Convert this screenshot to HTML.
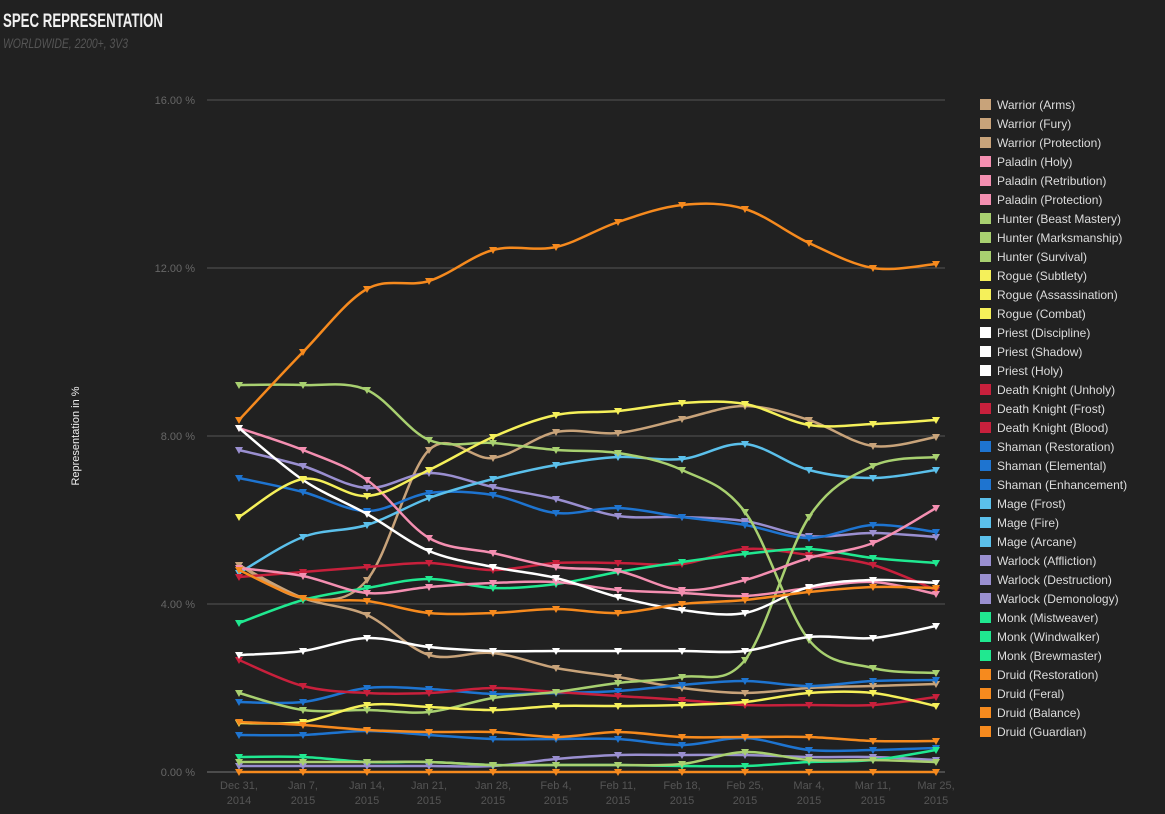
<!DOCTYPE html>
<html><head><meta charset="utf-8"><style>
body{margin:0;background:#212121;width:1165px;height:809px;overflow:hidden;font-family:"Liberation Sans",sans-serif}
</style></head><body>
<svg id="s" width="1165" height="809" xmlns="http://www.w3.org/2000/svg">
<rect width="1165" height="809" fill="#212121"/>
<text x="3" y="27" fill="#f0f0f0" font-size="19" font-weight="bold" textLength="160" lengthAdjust="spacingAndGlyphs">SPEC REPRESENTATION</text>
<text x="3" y="48" fill="#555" font-size="14" font-style="italic" textLength="125" lengthAdjust="spacingAndGlyphs">WORLDWIDE, 2200+, 3V3</text>
<text transform="translate(79,436) rotate(-90)" fill="#eee" font-size="11" text-anchor="middle">Representation in %</text>
<g id="grid"></g><g id="lines"></g><g id="leg"></g>
</svg>
<script>
const NS="http://www.w3.org/2000/svg";
function el(t,a,p,txt){const e=document.createElementNS(NS,t);for(const k in a)e.setAttribute(k,a[k]);if(txt)e.textContent=txt;p.appendChild(e);return e;}
const g=document.getElementById('grid');
[[16,100],[12,268],[8,436],[4,604],[0,772]].forEach(([v,y])=>{
 el('line',{x1:207,x2:945,y1:y,y2:y,stroke:v==0?'#777':'#555','stroke-width':1},g);
 el('text',{x:195,y:y+4,fill:'#666','font-size':11,'text-anchor':'end'},g,v.toFixed(2)+' %');
});
const X=[239,303,367,429,493,556,618,682,745,809,873,936];
const dl=["Dec 31,","Jan 7,","Jan 14,","Jan 21,","Jan 28,","Feb 4,","Feb 11,","Feb 18,","Feb 25,","Mar 4,","Mar 11,","Mar 25,"];
const yl=["2014","2015","2015","2015","2015","2015","2015","2015","2015","2015","2015","2015"];
X.forEach((x,i)=>{el('text',{x:x,y:789,fill:'#555','font-size':11,'text-anchor':'middle'},g,dl[i]);el('text',{x:x,y:804,fill:'#555','font-size':11,'text-anchor':'middle'},g,yl[i]);});
const S=[
['#c8a37a',[565,598,580,450,458,432,433,419,406,420,446,437]],
['#c8a37a',[565,598,615,655,653,668,677,688,693,688,686,684]],
['#9a8fd0',[450,466,488,473,487,499,516,517,521,536,533,537]],
['#9a8fd0',[766,766,766,766,766,759,755,755,755,757,757,760]],
['#1e74d0',[478,492,511,493,495,513,508,517,525,538,525,532]],
['#1e74d0',[702,702,688,689,694,693,691,685,681,686,681,680]],
['#1e74d0',[735,735,731,735,739,739,739,745,738,750,750,748]],
['#5bc0eb',[573,537,525,498,479,465,457,459,444,470,478,470]],
['#c8203c',[660,686,693,693,688,692,696,700,705,705,705,697]],
['#c8203c',[577,572,567,563,570,563,563,564,549,555,565,590]],
['#20e890',[623,600,588,579,588,584,572,562,554,549,558,563]],
['#20e890',[757,757,762,762,765,765,765,766,766,762,760,750]],
['#a8d070',[385,385,390,440,443,450,453,470,512,640,668,673]],
['#a8d070',[693,710,710,712,698,692,683,677,660,517,466,457]],
['#a8d070',[762,762,762,762,765,765,765,764,752,760,760,762]],
['#f48fb1',[428,450,480,538,553,567,571,590,580,558,543,508]],
['#f48fb1',[568,576,593,587,583,582,590,593,596,588,582,594]],
['#ffffff',[428,480,514,551,567,578,597,610,613,587,580,583]],
['#ffffff',[655,651,638,647,651,651,651,651,651,637,638,626]],
['#f5f05a',[517,479,496,470,437,415,411,403,404,425,424,420]],
['#f5f05a',[723,722,705,707,710,706,706,705,702,693,693,706]],
['#f68a1e',[570,598,601,613,613,609,613,604,600,592,587,588]],
['#f68a1e',[722,725,730,732,732,737,732,737,737,737,741,741]],
['#f68a1e',[772,772,772,772,772,772,772,772,772,772,772,772]],
['#f68a1e',[420,352,289,281,250,247,222,205,209,243,268,264]]];
const L=document.getElementById('lines');
S.forEach(([c,ys])=>{
 const P=X.map((x,i)=>[x,ys[i]]);let d='M'+P[0];
 for(let i=0;i<P.length-1;i++){const p0=P[Math.max(i-1,0)],p1=P[i],p2=P[i+1],p3=P[Math.min(i+2,P.length-1)];
  const c1=[p1[0]+(p2[0]-p0[0])/6,p1[1]+(p2[1]-p0[1])/6],c2=[p2[0]-(p3[0]-p1[0])/6,p2[1]-(p3[1]-p1[1])/6];
  d+=' C'+c1+' '+c2+' '+p2;}
 el('path',{d:d,fill:'none',stroke:c,'stroke-width':2.5},L);
 P.forEach(([x,y])=>el('path',{d:`M${x-4},${y-3}L${x+4},${y-3}L${x},${y+4}Z`,fill:c},L));
});
const names=[["Warrior (Arms)","#c8a37a"],["Warrior (Fury)","#c8a37a"],["Warrior (Protection)","#c8a37a"],["Paladin (Holy)","#f48fb1"],["Paladin (Retribution)","#f48fb1"],["Paladin (Protection)","#f48fb1"],["Hunter (Beast Mastery)","#a8d070"],["Hunter (Marksmanship)","#a8d070"],["Hunter (Survival)","#a8d070"],["Rogue (Subtlety)","#f5f05a"],["Rogue (Assassination)","#f5f05a"],["Rogue (Combat)","#f5f05a"],["Priest (Discipline)","#fff"],["Priest (Shadow)","#fff"],["Priest (Holy)","#fff"],["Death Knight (Unholy)","#c8203c"],["Death Knight (Frost)","#c8203c"],["Death Knight (Blood)","#c8203c"],["Shaman (Restoration)","#1e74d0"],["Shaman (Elemental)","#1e74d0"],["Shaman (Enhancement)","#1e74d0"],["Mage (Frost)","#5bc0eb"],["Mage (Fire)","#5bc0eb"],["Mage (Arcane)","#5bc0eb"],["Warlock (Affliction)","#9a8fd0"],["Warlock (Destruction)","#9a8fd0"],["Warlock (Demonology)","#9a8fd0"],["Monk (Mistweaver)","#20e890"],["Monk (Windwalker)","#20e890"],["Monk (Brewmaster)","#20e890"],["Druid (Restoration)","#f68a1e"],["Druid (Feral)","#f68a1e"],["Druid (Balance)","#f68a1e"],["Druid (Guardian)","#f68a1e"]];
const G=document.getElementById('leg');
names.forEach(([n,c],i)=>{const y=104+i*19;el('rect',{x:980,y:y-5,width:11,height:11,fill:c},G);el('text',{x:997,y:y+5,fill:'#ddd','font-size':12},G,n);});
</script>
</body></html>
